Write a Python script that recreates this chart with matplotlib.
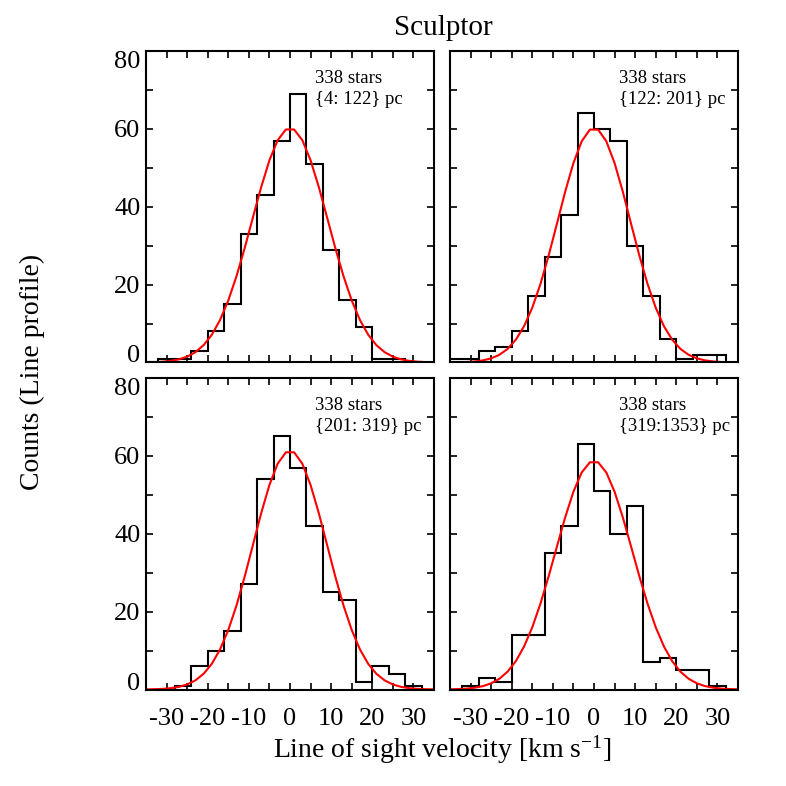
import matplotlib
matplotlib.use("Agg")
import matplotlib.pyplot as plt
import numpy as np
from matplotlib.ticker import MultipleLocator

plt.rcParams['font.family'] = ['Liberation Serif', 'DejaVu Serif']
plt.rcParams['mathtext.fontset'] = 'custom'
plt.rcParams['mathtext.rm'] = 'Liberation Serif'
plt.rcParams['mathtext.it'] = 'Liberation Serif:italic'
plt.rcParams['axes.unicode_minus'] = False

# bin edges of the velocity histograms (km/s)
bin_edges = np.arange(-36, 33, 4)

# counts per bin, one list per radial range (bins from -36 to 32)
counts_tl = [0, 1, 1, 3, 8, 15, 33, 43, 57, 69, 51, 29, 16, 9, 1, 1, 0]
counts_tr = [1, 1, 3, 4, 8, 17, 27, 38, 64, 60, 57, 30, 17, 6, 1, 2, 2]
counts_bl = [0, 0, 1, 6, 10, 15, 27, 54, 65, 57, 42, 25, 23, 2, 6, 4, 1]
counts_br = [0, 1, 3, 2, 14, 14, 35, 42, 63, 51, 40, 47, 7, 8, 5, 5, 1]

# gaussian fits: amplitude, centre, sigma
fit_tl = (60.2, 0.0, 9.2)
fit_tr = (60.2, 0.0, 8.8)
fit_bl = (61.3, 0.0, 9.0)
fit_br = (58.7, 0.0, 9.3)

labels = ["{4: 122} pc", "{122: 201} pc", "{201: 319} pc", "{319:1353} pc"]
n_stars = [338, 338, 338, 338]
xticks = [-30, -20, -10, 0, 10, 20, 30]
yticks = [0, 20, 40, 60, 80]

panels = [
    (counts_tl, fit_tl, [146, 51]),
    (counts_tr, fit_tr, [450, 51]),
    (counts_bl, fit_bl, [146, 378]),
    (counts_br, fit_br, [450, 378]),
]

W = H = 786
fig = plt.figure(figsize=(7.86, 7.86), dpi=100)

xs = np.arange(-35, 36, 2)

for i, (counts, fit, (px, py)) in enumerate(panels):
    ax = fig.add_axes([px / W, 1 - (py + 311.5) / H, 288 / W, 311.5 / H])
    ax.stairs(counts, bin_edges, color='black', lw=1.5)
    amp, mu, sig = fit
    ax.plot(xs, amp * np.exp(-0.5 * ((xs - mu) / sig) ** 2), color='red', lw=1.5)
    ax.set_xlim(-35, 35)
    ax.set_ylim(0, 80)
    ax.set_xticks(xticks)
    ax.set_yticks(yticks)
    ax.xaxis.set_minor_locator(MultipleLocator(5))
    ax.yaxis.set_minor_locator(MultipleLocator(10))
    ax.tick_params(which='both', direction='in', top=True, right=True,
                   length=5, width=1.2, labelsize=19)
    ax.tick_params(axis='x', pad=13)
    ax.tick_params(axis='y', pad=4)
    for s in ax.spines.values():
        s.set_linewidth(1.5)
    if i < 2:
        ax.tick_params(labelbottom=False)
    if i % 2 == 1:
        ax.tick_params(labelleft=False)
    else:
        ylabs = ax.get_yticklabels()
        ylabs[0].set_verticalalignment('baseline')
        ylabs[-1].set_verticalalignment('top')
    ax.text(0.587, 0.94, f"{n_stars[i]} stars\n{labels[i]}", transform=ax.transAxes,
            fontsize=13.5, va='top', ha='left', linespacing=1.3)

fig.text(443 / W, 1 - 28 / H, "Sculptor", ha='center', va='center', fontsize=21)
fig.text(442 / W, 1 - 750 / H, r"Line of sight velocity [km s$^{\mathrm{-1}}$]",
         ha='center', va='center', fontsize=20)
fig.text(32 / W, 1 - 372 / H, "Counts (Line profile)", rotation=90,
         ha='center', va='center', fontsize=20)

fig.savefig("out.png", dpi=100)
